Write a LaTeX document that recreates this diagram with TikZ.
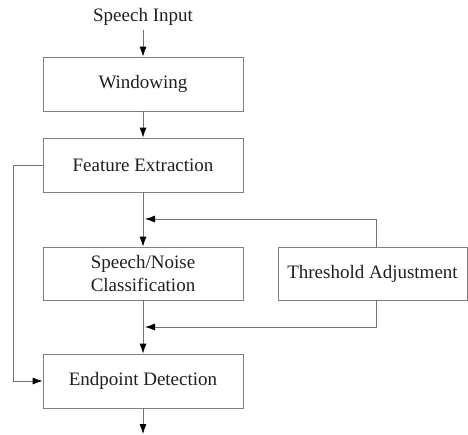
\documentclass[tikz,border=0pt]{standalone}
\usepackage{fontspec}
\setmainfont{Liberation Serif}
\usetikzlibrary{arrows.meta}
\begin{document}
\begin{tikzpicture}[x=1pt,y=-1pt,
  every node/.style={text=black!88, font=\fontsize{19}{23}\selectfont},
  blk/.style={draw=black!50, line width=0.8pt, minimum width=200pt, minimum height=54pt, inner sep=0pt, align=center},
  link/.style={draw=black!55, line width=0.8pt, -{Latex[color=black,length=10pt,width=7pt]}},
  wire/.style={draw=black!55, line width=0.8pt}]
  \useasboundingbox (0,0) rectangle (468,434);

  % main processing chain
  \node (in) at (143,17) {Speech Input};
  \node[blk] (win) at (143,84) {Windowing};
  \node[blk] (feat) at (143,165) {Feature Extraction};
  \node[blk, minimum height=53pt] (cls) at (143,273.5) {Speech/Noise\\Classification};
  \node[blk] (ep) at (143,381) {Endpoint Detection};
  \node[blk, minimum width=189pt, minimum height=53pt] (thr) at (372.5,273.5) {Threshold Adjustment};

  % helper points for the threshold loop and the bypass
  \coordinate (out) at (143,434);
  \coordinate (fbtop) at (376,219);
  \coordinate (fbbot) at (376,327);
  \coordinate (jtop) at (145,219);
  \coordinate (jbot) at (145,327);
  \coordinate (byp) at (13,165);

  \draw[link] (143,30) -- (win.north);
  \draw[link] (win) -- (feat);
  \draw[link] (feat) -- (cls);
  \draw[link] (cls) -- (ep);
  \draw[link] (ep) -- (out);

  % threshold feedback into both branches of the chain
  \draw[link] (thr.north -| fbtop) -- (fbtop) -- (jtop);
  \draw[link] (thr.south -| fbbot) -- (fbbot) -- (jbot);

  % bypass from feature extraction straight to endpoint detection
  \draw[link] (feat.west) -- (byp) |- (ep.west);
\end{tikzpicture}
\end{document}
